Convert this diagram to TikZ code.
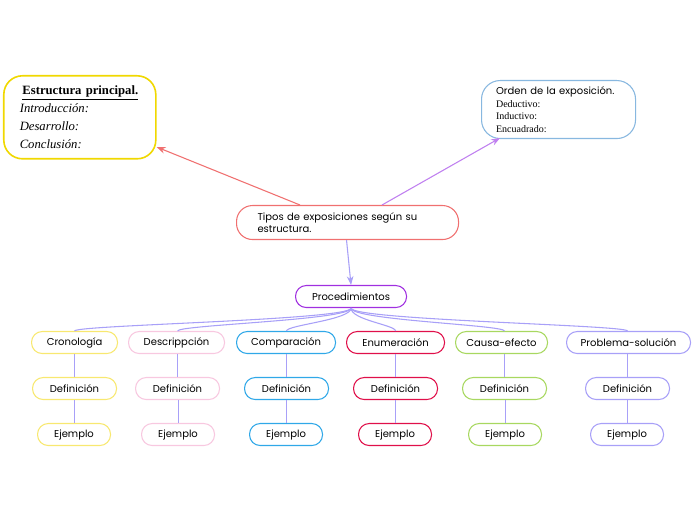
\documentclass[tikz,border=0pt]{standalone}
\usepackage{fontspec}
\setmainfont{Liberation Serif}
\setsansfont{Poppins}
\usetikzlibrary{arrows.meta,positioning}
\definecolor{cyellow}{RGB}{240,216,0}
\definecolor{cblue}{RGB}{136,184,224}
\definecolor{cred}{RGB}{240,112,112}
\definecolor{cpurple}{RGB}{160,48,224}
\definecolor{cyel}{RGB}{248,232,112}
\definecolor{cpink}{RGB}{248,200,224}
\definecolor{csky}{RGB}{48,168,232}
\definecolor{ccrim}{RGB}{224,16,74}
\definecolor{cgreen}{RGB}{168,216,96}
\definecolor{clav}{RGB}{168,160,248}
\definecolor{cviolet}{RGB}{192,128,240}
\tikzset{
    box/.style={draw, thick, rounded corners=8pt, font=\sffamily\fontsize{7.5}{9}\selectfont,
        inner sep=0pt, anchor=north west},
    link/.style={clav, thick},
}
\begin{document}
\begin{tikzpicture}[x=0.75pt, y=-0.75pt]
    % Background
    \fill[white] (0,0) rectangle (697,520);

    % Top boxes
    \node[box, cyellow, line width=1.2pt, rounded corners=14pt, minimum width=152*0.75pt, minimum height=83*0.75pt,
        text=black, align=left, text width=120*0.75pt, font=\rmfamily\fontsize{9.5}{13.5}\selectfont]
        (estructura) at (3,75) {\hspace*{2pt}\textbf{\underline{Estructura principal.}}\\\textit{Introducción:}\\\textit{Desarrollo:}\\\textit{Conclusión:}};
    \node[box, cblue, rounded corners=14pt, minimum width=154*0.75pt, minimum height=58*0.75pt,
        text=black, align=left, text width=125*0.75pt, font=\rmfamily\fontsize{7.5}{9.5}\selectfont]
        (orden) at (481,80) {{\sffamily Orden de la exposición.}\\Deductivo:\\Inductivo:\\Encuadrado:};
    \node[box, cred, rounded corners=12pt, minimum width=222*0.75pt, minimum height=34*0.75pt,
        text=black, align=left, text width=180*0.75pt] (tipos) at (236,205)
        {Tipos de exposiciones según su\\estructura.};
    \node[box, cpurple, minimum width=111*0.75pt, minimum height=22*0.75pt, text=black] (proc) at (295,285) {Procedimientos};

    % Columns
    \foreach \name/\txt/\col/\xa/\wa/\xb/\xc in {
        cro/Cronología/cyel/31/86/32/37,
        des/Descrippción/cpink/128/96/135/141,
        com/Comparación/csky/236/99/244/249,
        enu/Enumeración/ccrim/346/98/353/358,
        cau/Causa-efecto/cgreen/455/92/462/468,
        pro/Problema-solución/clav/566/124/585/590} {
        \node[box, \col, minimum width=\wa*0.75pt, minimum height=22*0.75pt, text=black] (\name) at (\xa,331) {\txt};
        \node[box, \col, minimum width=84*0.75pt, minimum height=22*0.75pt, text=black] (\name def) at (\xb,377) {Definición};
        \node[box, \col, minimum width=73*0.75pt, minimum height=22*0.75pt, text=black] (\name ej) at (\xc,423) {Ejemplo};
        \draw[link] (\name def.north) -- (\name def.north |- \name.south);
        \draw[link] (\name ej.north) -- (\name ej.north |- \name def.south);
        \draw[link] (proc.south) .. controls ++(0,12) and ++(0,-6) .. (\name def.north |- \name.north);
    }

    % Arrows
    \draw[cred, thick, -{Stealth}] (tipos.north west) ++(64,0) -- (estructura.south east |- 0,147);
    \draw[cviolet, thick, -{Stealth}] (tipos.north west) ++(146,0) -- (500,138);
    \draw[link, -{Stealth}] (tipos.south) ++(-1,0) -- (proc.north);
\end{tikzpicture}
\end{document}
